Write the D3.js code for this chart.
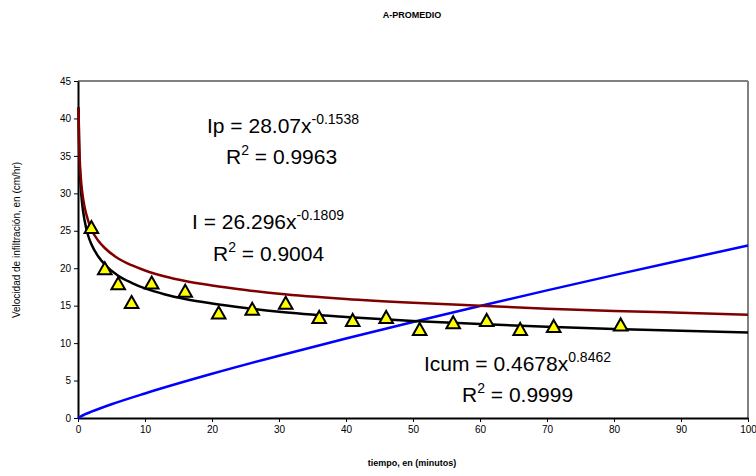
<!DOCTYPE html>
<html><head><meta charset="utf-8">
<script src="https://cdn.jsdelivr.net/npm/d3@7"></script>
<style>body{margin:0;background:#fff}svg{display:block;font-family:"Liberation Sans",Arial,sans-serif}</style>
</head><body>
<svg id="c" width="756" height="476"></svg>
<script>
// Observed data (tiempo, min ; velocidad cm/hr)
const obsX = [2,4,6,8,11,16,21,26,31,36,41,46,51,56,61,66,71,81];
const obsY = [25.5,20.0,18.0,15.5,18.1,17.0,14.1,14.6,15.4,13.5,13.1,13.5,11.9,12.8,13.1,11.9,12.3,12.5];
// Trend curves
const curveX  = [0.08,0.15,0.25,0.4,0.6,1,1.5,2,3,4,6,8,10,13,16,20,25,30,40,50,60,70,80,90,100];
const ipY     = [41.4,37.6,34.7,32.3,30.4,28.1,26.4,25.2,23.7,22.7,21.3,20.4,19.7,18.9,18.3,17.7,17.1,16.6,15.9,15.4,15.0,14.6,14.3,14.05,13.8];
const iY      = [41.5,37.1,33.8,31.0,28.8,26.3,24.4,23.2,21.6,20.5,19.0,18.05,17.3,16.5,15.9,15.3,14.7,14.2,13.5,12.96,12.54,12.19,11.9,11.65,11.43];
const cumX    = [0,0.5,1,2,5,10,20,30,40,50,60,70,80,90,100];
const cumY    = [0,0.26,0.47,0.84,1.83,3.28,5.9,8.32,10.61,12.82,14.95,17.04,19.08,21.07,23.03];
const xTicks = [0,10,20,30,40,50,60,70,80,90,100];
const yTicks = [0,5,10,15,20,25,30,35,40,45];

const svg = d3.select("#c");
const L=78,R=748,T=81,B=418;
const x = d3.scaleLinear().domain([0,100]).range([L,R]);
const y = d3.scaleLinear().domain([0,45]).range([B,T]);

// frame
svg.append("line").attr("x1",L).attr("x2",R).attr("y1",T).attr("y2",T).attr("stroke","#808080").attr("stroke-width",2);
svg.append("line").attr("x1",R).attr("x2",R).attr("y1",T).attr("y2",B).attr("stroke","#808080").attr("stroke-width",2);

const xa = svg.append("g").attr("transform",`translate(0,${B})`)
  .call(d3.axisBottom(x).tickValues(xTicks).tickSize(4).tickSizeOuter(0).tickPadding(4));
const ya = svg.append("g").attr("transform",`translate(${L},0)`)
  .call(d3.axisLeft(y).tickValues(yTicks).tickSize(4).tickSizeOuter(0).tickPadding(3));
[xa,ya].forEach(g=>{
  g.select(".domain").attr("stroke","#000").attr("stroke-width",2);
  g.selectAll(".tick line").attr("stroke","#000");
  g.selectAll("text").attr("font-size",10).attr("fill","#000").attr("font-family","'Liberation Sans',Arial,sans-serif");
});

const line = d3.line().x(d=>x(d[0])).y(d=>y(d[1])).curve(d3.curveMonotoneX);
svg.append("path").attr("d",line(cumX.map((v,i)=>[v,cumY[i]]))).attr("fill","none").attr("stroke","#0000ff").attr("stroke-width",2.5);
svg.append("path").attr("d",line(curveX.map((v,i)=>[v,iY[i]]))).attr("fill","none").attr("stroke","#000").attr("stroke-width",2.5);
svg.append("path").attr("d",line(curveX.map((v,i)=>[v,ipY[i]]))).attr("fill","none").attr("stroke","#800000").attr("stroke-width",2.5);

svg.append("g").selectAll("path").data(obsX.map((v,i)=>[v,obsY[i]])).join("path")
  .attr("d","M0,-6L6.8,6L-6.8,6Z")
  .attr("transform",d=>`translate(${x(d[0])},${y(d[1])})`)
  .attr("fill","#ffff00").attr("stroke","#000").attr("stroke-width",2).attr("stroke-linejoin","miter");

// annotations
function eq(px,py,main,sup){
  const t=svg.append("text").attr("x",px).attr("y",py).attr("font-size",21).attr("fill","#000");
  t.append("tspan").text(main);
  t.append("tspan").attr("font-size",14).attr("dy",-9).text(sup);
}
function r2(px,py,val){
  const t=svg.append("text").attr("x",px).attr("y",py).attr("font-size",21).attr("fill","#000");
  t.append("tspan").text("R");
  t.append("tspan").attr("font-size",14).attr("dy",-9).text("2");
  t.append("tspan").attr("dy",9).text(" = "+val);
}
eq(207,133,"Ip = 28.07x","-0.1538");
r2(226,164,"0.9963");
eq(192,229,"I = 26.296x","-0.1809");
r2(213,261,"0.9004");
eq(424,371,"Icum = 0.4678x","0.8462");
r2(462,402,"0.9999");

svg.append("text").attr("x",412).attr("y",18).attr("text-anchor","middle").attr("font-size",9).attr("font-weight","bold").text("A-PROMEDIO");
svg.append("text").attr("x",412).attr("y",466).attr("text-anchor","middle").attr("font-size",9).attr("font-weight","bold").text("tiempo, en (minutos)");
svg.append("text").attr("transform","translate(20,240) rotate(-90)").attr("text-anchor","middle").attr("font-size",10).text("Velocidad de infiltración, en (cm/hr)");
</script>
</body></html>
